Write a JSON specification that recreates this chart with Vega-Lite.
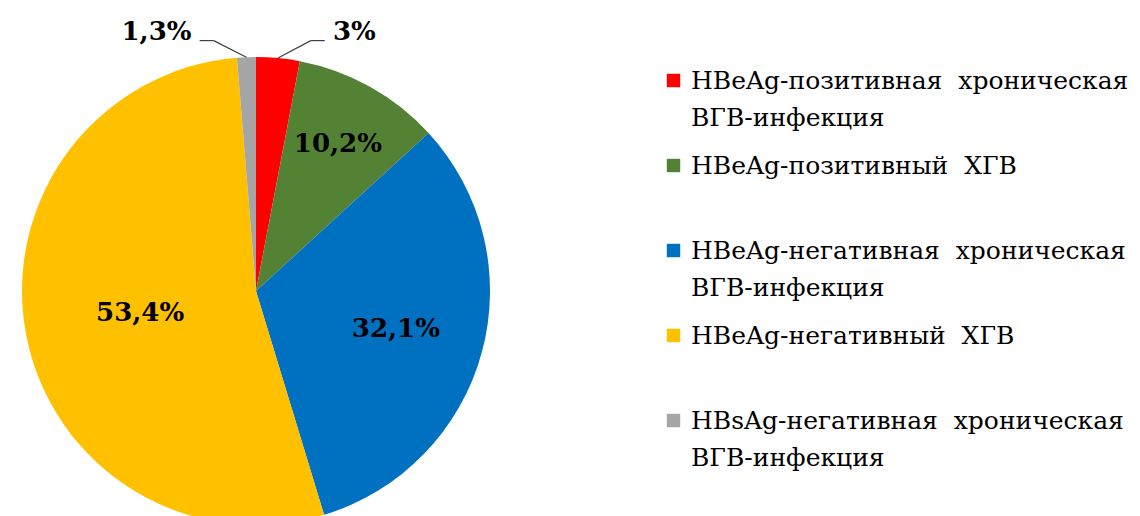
{
  "$schema": "https://vega.github.io/schema/vega-lite/v6.json",
  "width": 512,
  "height": 450,
  "autosize": {"type": "none"},
  "padding": {"left": 0, "top": 66, "right": 628, "bottom": 0},
  "background": "white",
  "config": {"view": {"stroke": null}, "font": "DejaVu Serif"},
  "data": {"values": [
    {"cat": "HBeAg-позитивная\u00a0\u00a0хроническая|ВГВ-инфекция", "value": 3, "order": 1},
    {"cat": "HBeAg-позитивный\u00a0\u00a0ХГВ", "value": 10.2, "order": 2},
    {"cat": "HBeAg-негативная\u00a0\u00a0хроническая|ВГВ-инфекция", "value": 32.1, "order": 3},
    {"cat": "HBeAg-негативный\u00a0\u00a0ХГВ", "value": 53.4, "order": 4},
    {"cat": "HBsAg-негативная\u00a0\u00a0хроническая|ВГВ-инфекция", "value": 1.3, "order": 5}
  ]},
  "transform": [
    {"calculate": "replace(format(datum.value, '.1~f'), '.', ',') + '%'", "as": "pct"},
    {"window": [{"op": "sum", "field": "value", "as": "cum"}], "sort": [{"field": "order"}], "frame": [null, 0]},
    {"joinaggregate": [{"op": "sum", "field": "value", "as": "total"}]},
    {"calculate": "2*PI*(datum.cum - datum.value/2)/datum.total", "as": "ang"},
    {"calculate": "sin(datum.ang)", "as": "x1"},
    {"calculate": "cos(datum.ang)", "as": "y1"},
    {"calculate": "datum.x1 >= 0 ? 1 : -1", "as": "side"},
    {"calculate": "datum.x1 + 0.14*datum.side", "as": "xe"},
    {"calculate": "datum.xe + 0.06*datum.side", "as": "xh"},
    {"calculate": "datum.xh + 0.035*datum.side", "as": "xt"},
    {"calculate": "1.07", "as": "ye"}
  ],
  "layer": [
    {
      "mark": {"type": "arc", "radius": 234},
      "encoding": {
        "theta": {"field": "value", "type": "quantitative", "stack": true},
        "order": {"field": "order", "type": "quantitative"},
        "color": {
          "field": "cat", "type": "nominal",
          "scale": {
            "domain": [
              "HBeAg-позитивная\u00a0\u00a0хроническая|ВГВ-инфекция",
              "HBeAg-позитивный\u00a0\u00a0ХГВ",
              "HBeAg-негативная\u00a0\u00a0хроническая|ВГВ-инфекция",
              "HBeAg-негативный\u00a0\u00a0ХГВ",
              "HBsAg-негативная\u00a0\u00a0хроническая|ВГВ-инфекция"
            ],
            "range": ["#FF0000", "#548235", "#0070C0", "#FFC000", "#A5A5A5"]
          },
          "legend": {
            "orient": "none", "legendX": 661, "legendY": 2, "title": null,
            "symbolType": "square", "symbolSize": 180, "symbolStrokeWidth": 0,
            "labelFont": "DejaVu Serif", "labelFontSize": 25, "labelColor": "black",
            "labelLimit": 0, "labelOffset": 5, "rowPadding": 22, "padding": 0,
            "labelBaseline": "line-top",
            "labelExpr": "length(split(datum.label, '|')) > 1 ? split(datum.label, '|') : [datum.label, '']",
            "encode": {"labels": {"update": {"lineHeight": {"value": 37}, "dy": {"value": -18}}}}
          }
        }
      }
    },
    {
      "mark": {"type": "text", "font": "DejaVu Serif", "fontWeight": "bold", "fontSize": 26, "color": "black",
               "radius": {"expr": "datum.order == 2 ? 168 : datum.order == 3 ? 145 : 118"}},
      "encoding": {
        "theta": {"field": "value", "type": "quantitative", "stack": true},
        "order": {"field": "order", "type": "quantitative"},
        "text": {"condition": {"test": "datum.value < 5", "value": ""}, "field": "pct"}
      }
    },
    {
      "transform": [{"filter": "datum.value < 5"}],
      "mark": {"type": "rule", "color": "#404040", "strokeWidth": 1.2},
      "encoding": {
        "x": {"field": "x1", "type": "quantitative", "scale": {"domain": [-1.094, 1.094], "nice": false, "zero": false}, "axis": null},
        "y": {"field": "y1", "type": "quantitative", "scale": {"domain": [-0.9615, 0.9615], "nice": false, "zero": false}, "axis": null},
        "x2": {"field": "xe"},
        "y2": {"field": "ye"}
      }
    },
    {
      "transform": [{"filter": "datum.value < 5"}],
      "mark": {"type": "rule", "color": "#404040", "strokeWidth": 1.2},
      "encoding": {
        "x": {"field": "xe", "type": "quantitative", "scale": {"domain": [-1.094, 1.094], "nice": false, "zero": false}, "axis": null},
        "y": {"field": "ye", "type": "quantitative", "scale": {"domain": [-0.9615, 0.9615], "nice": false, "zero": false}, "axis": null},
        "x2": {"field": "xh"}
      }
    },
    {
      "transform": [{"filter": "datum.value < 5 && datum.side > 0"}],
      "mark": {"type": "text", "font": "DejaVu Serif", "fontWeight": "bold", "fontSize": 26, "color": "black", "align": "left", "baseline": "middle", "dy": -9},
      "encoding": {
        "x": {"field": "xt", "type": "quantitative", "scale": {"domain": [-1.094, 1.094], "nice": false, "zero": false}, "axis": null},
        "y": {"field": "ye", "type": "quantitative", "scale": {"domain": [-0.9615, 0.9615], "nice": false, "zero": false}, "axis": null},
        "text": {"field": "pct"}
      }
    },
    {
      "transform": [{"filter": "datum.value < 5 && datum.side < 0"}],
      "mark": {"type": "text", "font": "DejaVu Serif", "fontWeight": "bold", "fontSize": 26, "color": "black", "align": "right", "baseline": "middle", "dy": -9},
      "encoding": {
        "x": {"field": "xt", "type": "quantitative", "scale": {"domain": [-1.094, 1.094], "nice": false, "zero": false}, "axis": null},
        "y": {"field": "ye", "type": "quantitative", "scale": {"domain": [-0.9615, 0.9615], "nice": false, "zero": false}, "axis": null},
        "text": {"field": "pct"}
      }
    }
  ]
}
